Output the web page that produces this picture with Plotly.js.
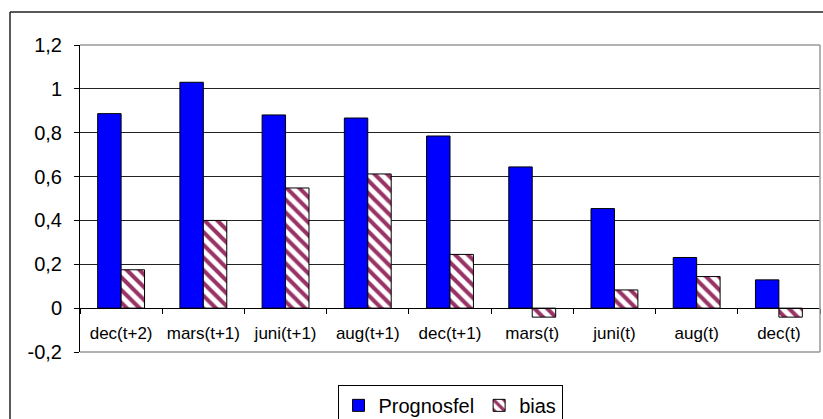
<!DOCTYPE html>
<html>
<head>
<meta charset="utf-8">
<script src="https://cdn.plot.ly/plotly-3.0.1.min.js"></script>
<style>html,body{margin:0;padding:0;background:#fff;}#chart{width:823px;height:419px;}</style>
</head>
<body>
<div id="chart"></div>
<script>
const categories = ["dec(t+2)", "mars(t+1)", "juni(t+1)", "aug(t+1)", "dec(t+1)", "mars(t)", "juni(t)", "aug(t)", "dec(t)"];
const prognosfel = [0.887, 1.030, 0.881, 0.867, 0.785, 0.644, 0.454, 0.231, 0.129];
const bias = [0.175, 0.400, 0.548, 0.612, 0.245, -0.041, 0.083, 0.144, -0.041];
const yTickVals = [-0.2, 0, 0.2, 0.4, 0.6, 0.8, 1, 1.2];
const yTickText = ["-0,2", "0", "0,2", "0,4", "0,6", "0,8", "1", "1,2"];

const font = "Liberation Sans, Arial, sans-serif";
const traces = [
  {
    type: "bar", name: "Prognosfel", x: categories, y: prognosfel,
    marker: {color: "#0000FF", line: {color: "#000", width: 1}}
  },
  {
    type: "bar", name: "bias", x: categories, y: bias,
    marker: {color: "#ffffff", line: {color: "#000", width: 1},
      pattern: {shape: "\\", fgcolor: "#993366", bgcolor: "#ffffff", size: 9, solidity: 0.45}}
  }
];
const layout = {
  width: 823, height: 419,
  margin: {l: 80, r: 3, t: 45, b: 67, autoexpand: false},
  paper_bgcolor: "#fff", plot_bgcolor: "#fff",
  font: {family: font, color: "#000"},
  barmode: "group", bargap: 0.43, bargroupgap: 0,
  showlegend: true,
  legend: {orientation: "h", x: 0.5, xanchor: "center", y: -0.107, yanchor: "top",
    bordercolor: "#000", borderwidth: 1, font: {size: 20, family: font}, traceorder: "normal",
    itemwidth: 30},
  xaxis: {type: "category", anchor: "free", position: 1/7, showline: true, linecolor: "#000", linewidth: 1,
    ticks: "outside", tickson: "boundaries", ticklen: 5, tickcolor: "#000", ticklabelstandoff: 9,
    tickfont: {size: 17, family: font}, showgrid: false, zeroline: false, fixedrange: true, automargin: false},
  yaxis: {range: [-0.2, 1.2], tickvals: yTickVals, ticktext: yTickText, showline: true, linecolor: "#000", linewidth: 1,
    ticks: "outside", ticklen: 5, tickcolor: "#000", ticklabelstandoff: 8, automargin: false,
    tickfont: {size: 20, family: font}, showgrid: true, gridcolor: "#222", gridwidth: 1, zeroline: false},
  shapes: [
    {type: "line", xref: "paper", yref: "paper", x0: 0, x1: 1, y0: 1, y1: 1, line: {color: "#999", width: 1.5}},
    {type: "line", xref: "paper", yref: "paper", x0: 1, x1: 1, y0: 0, y1: 1, line: {color: "#999", width: 1.5}},
    {type: "line", xref: "paper", yref: "paper", x0: 0, x1: 1, y0: 0, y1: 0, line: {color: "#999", width: 1.5}},
    {type: "line", xref: "paper", yref: "paper", x0: -70/740, x1: 1.02, y0: 340/307, y1: 340/307, line: {color: "#222", width: 1.5}},
    {type: "line", xref: "paper", yref: "paper", x0: -70/740, x1: -70/740, y0: 340/307, y1: -0.3, line: {color: "#222", width: 1.5}}
  ]
};
Plotly.newPlot("chart", traces, layout, {displayModeBar: false, staticPlot: true});
</script>
</body>
</html>
